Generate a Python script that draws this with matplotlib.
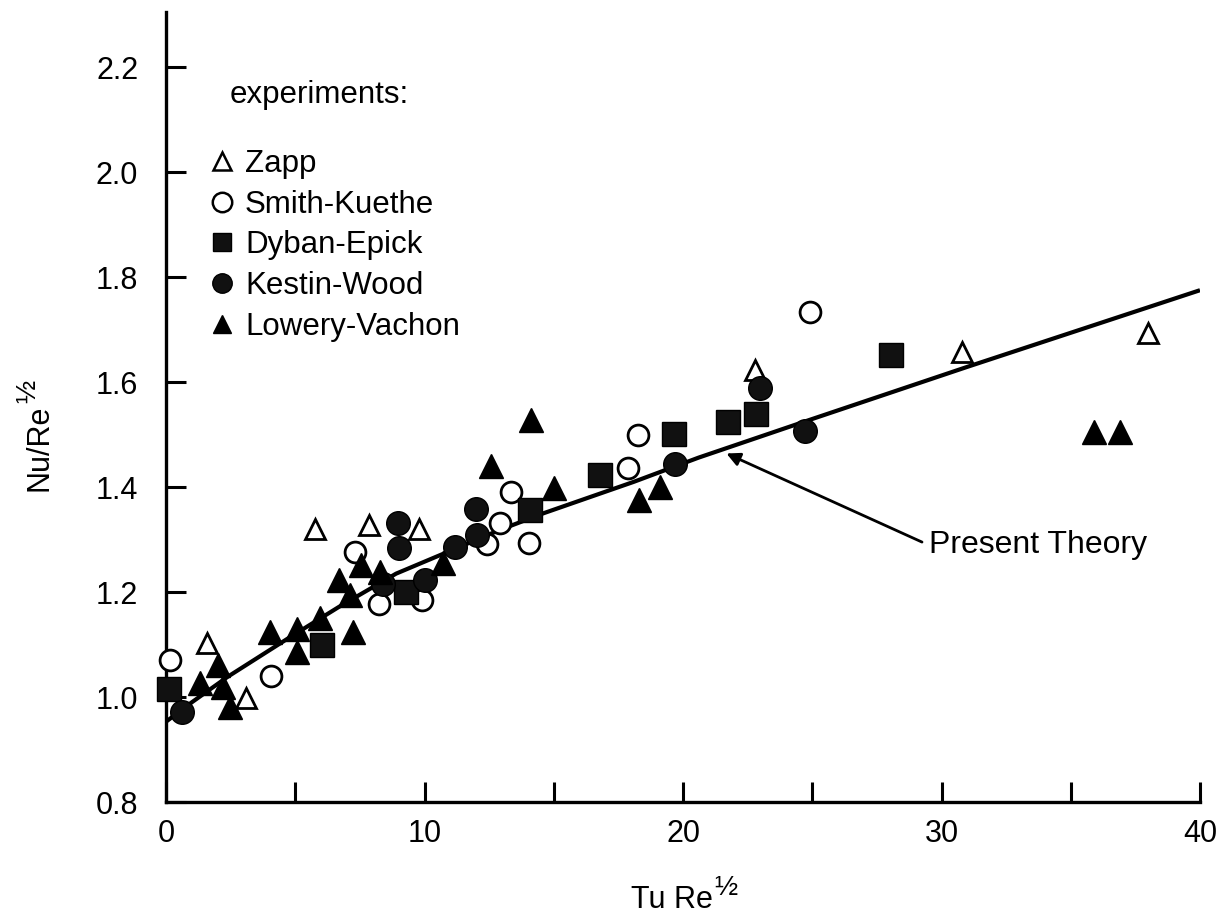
import matplotlib
matplotlib.use("Agg")
import matplotlib.pyplot as plt
from matplotlib.lines import Line2D

plt.rcParams['font.family'] = ['Liberation Sans', 'DejaVu Sans']

# ---- data ----
zapp_x = [1.58, 3.10, 5.78, 7.84, 9.78, 22.77, 30.8, 38.0]
zapp_y = [1.102, 0.998, 1.321, 1.328, 1.321, 1.623, 1.657, 1.693]

smith_x = [0.16, 4.07, 7.33, 8.23, 9.91, 12.40, 12.91, 13.36, 14.05, 17.89, 18.24, 24.9]
smith_y = [1.070, 1.040, 1.277, 1.178, 1.185, 1.291, 1.331, 1.390, 1.293, 1.437, 1.499, 1.734]

dyban_x = [0.10, 6.03, 9.30, 14.07, 16.8, 19.67, 21.75, 22.84, 28.03]
dyban_y = [1.015, 1.099, 1.200, 1.356, 1.423, 1.502, 1.524, 1.540, 1.651]

kestin_x = [0.61, 8.40, 8.96, 9.01, 10.0, 11.17, 11.98, 12.04, 19.68, 22.98, 24.71]
kestin_y = [0.972, 1.215, 1.332, 1.283, 1.223, 1.285, 1.359, 1.309, 1.444, 1.588, 1.507]

lowery_x = [1.32, 2.03, 2.22, 2.48, 4.03, 5.06, 5.06, 5.97, 6.68, 7.13, 7.24,
            7.54, 8.29, 10.7, 12.56, 14.13, 15.0, 18.3, 19.12, 35.9, 36.9]
lowery_y = [1.026, 1.061, 1.020, 0.981, 1.124, 1.130, 1.086, 1.150, 1.223, 1.194, 1.124,
            1.251, 1.239, 1.256, 1.440, 1.528, 1.399, 1.376, 1.400, 1.505, 1.505]

theory_x = [0, 1.0, 2.4, 4.7, 6.7, 8.9, 12.9, 14.6, 18.1, 20.6, 24.9, 31.0, 35.5, 40.0]
theory_y = [0.953, 0.990, 1.039, 1.111, 1.172, 1.235, 1.318, 1.350, 1.410, 1.456,
            1.528, 1.629, 1.702, 1.775]

x_ticks = [0, 5, 10, 15, 20, 25, 30, 35, 40]
x_tick_labels = ['0', '', '10', '', '20', '', '30', '', '40']
y_ticks = [0.8, 1.0, 1.2, 1.4, 1.6, 1.8, 2.0, 2.2]
y_tick_labels = ['0.8', '1.0', '1.2', '1.4', '1.6', '1.8', '2.0', '2.2']

series_names = ['Zapp', 'Smith-Kuethe', 'Dyban-Epick', 'Kestin-Wood', 'Lowery-Vachon']

# ---- figure ----
W, H = 1231, 923
fig = plt.figure(figsize=(W / 100, H / 100), dpi=100)
AX_L, AX_R, AX_B, AX_T = 166, 1200, 802, 12
ax = fig.add_axes([AX_L / W, (H - AX_B) / H, (AX_R - AX_L) / W, (AX_B - AX_T) / H])


def ax_fx(px):
    return (px - AX_L) / (AX_R - AX_L)


def ax_fy(py):
    return (AX_B - py) / (AX_B - AX_T)


ax.plot(theory_x, theory_y, color='black', lw=3.0, solid_capstyle='butt', zorder=2)

ax.plot(zapp_x, zapp_y, ls='none', marker='^', ms=15, mfc='white', mec='black', mew=2.0,
        clip_on=False, zorder=3)
ax.plot(smith_x, smith_y, ls='none', marker='o', ms=15, mfc='white', mec='black', mew=2.0,
        clip_on=False, zorder=3)
ax.plot(dyban_x, dyban_y, ls='none', marker='s', ms=17, mfc='#111111', mec='black', mew=1.0,
        clip_on=False, zorder=4)
ax.plot(kestin_x, kestin_y, ls='none', marker='o', ms=17, mfc='#111111', mec='black', mew=1.0,
        clip_on=False, zorder=4)
ax.plot(lowery_x, lowery_y, ls='none', marker='^', ms=17, mfc='black', mec='black', mew=1.0,
        clip_on=False, zorder=4)

ax.set_xlim(0, 40)
ax.set_ylim(0.8, 2.305)

for s in ['top', 'right']:
    ax.spines[s].set_visible(False)
for s in ['left', 'bottom']:
    ax.spines[s].set_linewidth(2.4)

ax.set_xticks(x_ticks)
ax.set_xticklabels(x_tick_labels)
ax.set_yticks(y_ticks)
ax.set_yticklabels(y_tick_labels)
ax.tick_params(axis='both', direction='in', length=14.5, width=2.2, labelsize=22)
ax.tick_params(axis='y', pad=20)
ax.tick_params(axis='x', pad=12)

# axis labels with a raised one-half superscript
xl = fig.text(672 / W, 1 - 900 / H, 'Tu Re', ha='center', va='center', fontsize=22)
ax.annotate('½', xy=(1.0, 1.0), xycoords=xl, xytext=(1, 7), textcoords='offset points',
            ha='left', va='top', fontsize=20, annotation_clip=False)
yl = fig.text(40 / W, 1 - 448 / H, 'Nu/Re', ha='center', va='center',
              fontsize=22, rotation=90)
ax.annotate('½', xy=(0.0, 1.0), xycoords=yl, xytext=(-7, 1), textcoords='offset points',
            ha='left', va='bottom', fontsize=20, rotation=90, annotation_clip=False)

# legend
handles = [
    Line2D([], [], ls='none', marker='^', ms=13, mfc='white', mec='black', mew=1.8),
    Line2D([], [], ls='none', marker='o', ms=14, mfc='white', mec='black', mew=1.8),
    Line2D([], [], ls='none', marker='s', ms=13, mfc='#111111', mec='black', mew=1.0),
    Line2D([], [], ls='none', marker='o', ms=14, mfc='#111111', mec='black', mew=1.0),
    Line2D([], [], ls='none', marker='^', ms=13, mfc='black', mec='black', mew=1.0),
]
leg = ax.legend(handles, series_names, loc='upper left',
                bbox_to_anchor=(ax_fx(206), ax_fy(149)),
                frameon=False, fontsize=22.5, handlelength=1.0, handletextpad=0.25,
                labelspacing=0.34, borderpad=0, borderaxespad=0)
ax.text(ax_fx(230), ax_fy(95), 'experiments:', transform=ax.transAxes,
        ha='left', va='center', fontsize=22.5)

# theory annotation
ax.annotate('Present Theory', xy=(21.68, 1.464), xytext=(29.5, 1.2895),
            ha='left', va='center', fontsize=23,
            arrowprops=dict(arrowstyle='-|>', color='black', lw=2.0, mutation_scale=20,
                            shrinkA=3, shrinkB=0, relpos=(0.0, 0.5)))

fig.savefig('out.png', dpi=100)
